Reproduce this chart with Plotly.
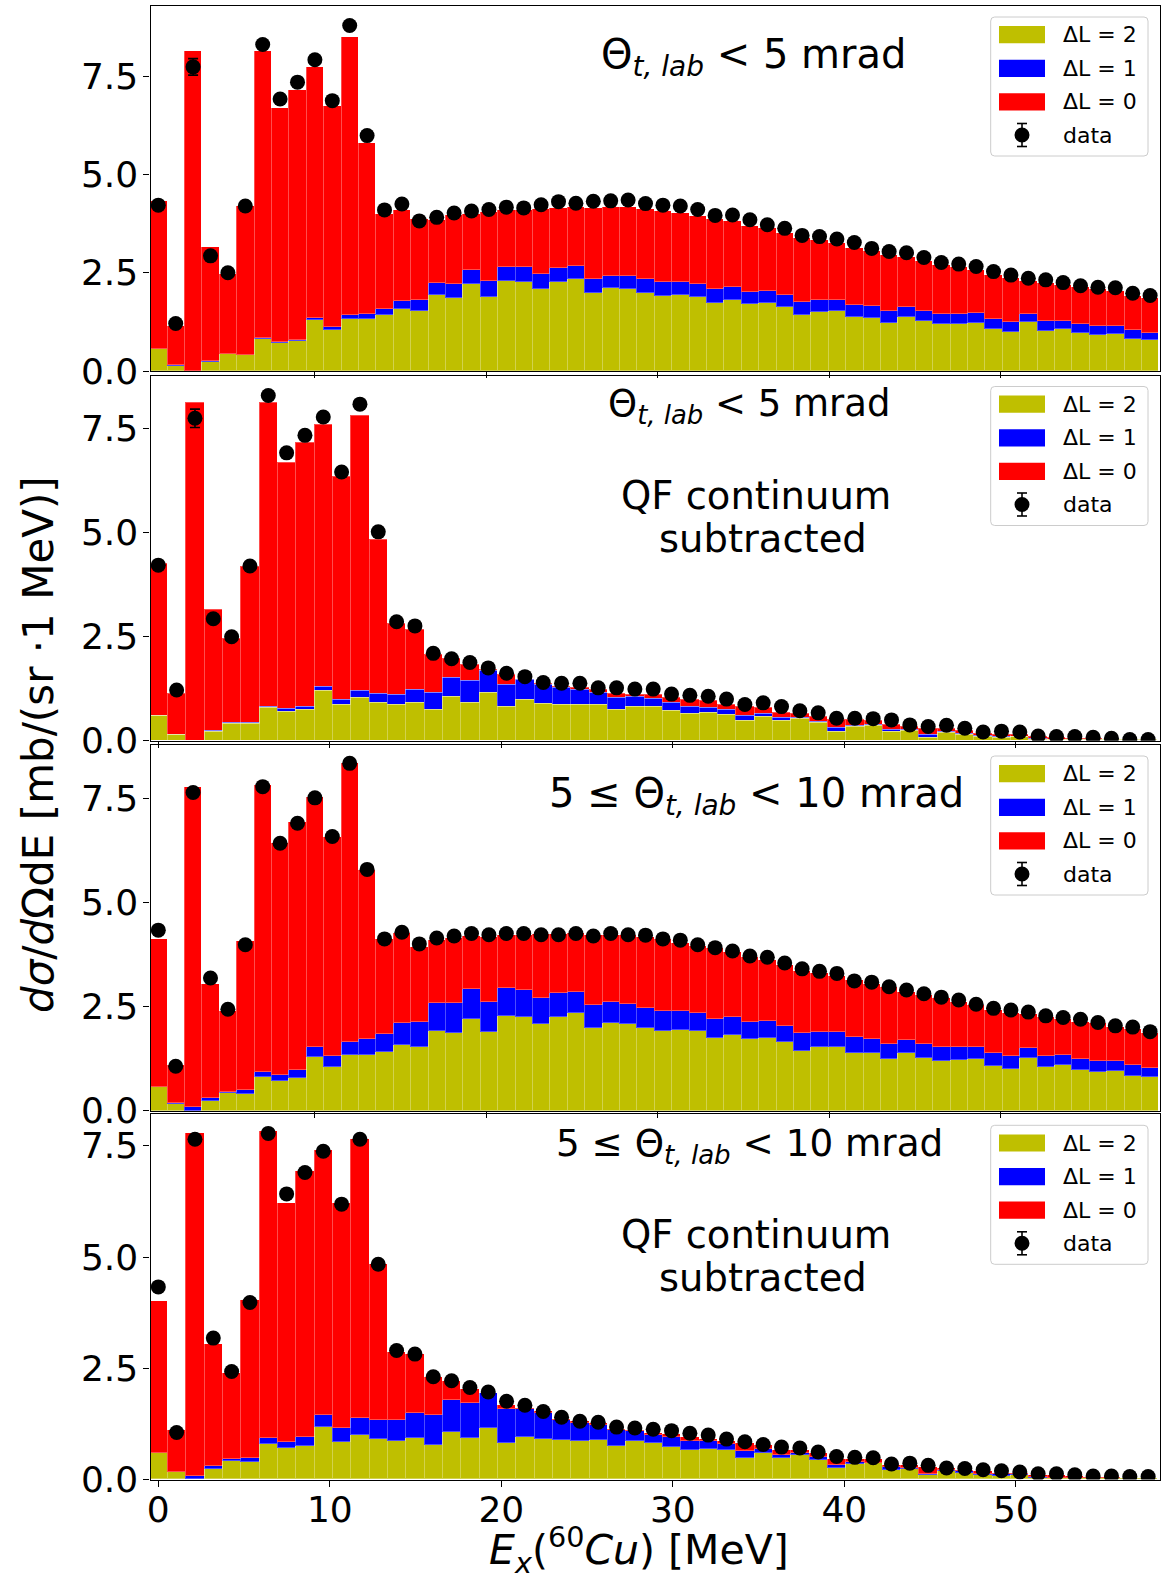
import numpy as np
import plotly.graph_objects as go

FIG_W, FIG_H = 1161, 1577

# ---------------------------------------------------------------------------
# Cross sections in mb/(sr 1 MeV).  For every panel:
#   *_data  : measured points
#   *_l2    : ΔL = 2 contribution
#   *_l21   : ΔL = 2 + ΔL = 1 (cumulative)
#   *_tot   : ΔL = 2 + ΔL = 1 + ΔL = 0 (full fit)
# ---------------------------------------------------------------------------

# Θ < 5 mrad
p1_data = [4.22, 1.21, 7.74, 2.93, 2.50, 4.20, 8.31, 6.92, 7.35, 7.92,
           6.88, 8.79, 5.99, 4.10, 4.25, 3.82, 3.91, 4.02, 4.07, 4.11,
           4.17, 4.15, 4.23, 4.31, 4.27, 4.32, 4.33, 4.35, 4.26, 4.22,
           4.20, 4.11, 3.96, 3.97, 3.85, 3.72, 3.63, 3.45, 3.42, 3.36,
           3.27, 3.12, 3.04, 3.01, 2.89, 2.76, 2.72, 2.66, 2.53, 2.44,
           2.36, 2.32, 2.25, 2.17, 2.13, 2.12, 1.98, 1.92]
p1_err = {2: 0.21}
p1_tot = [4.32, 1.15, 8.15, 3.15, 2.48, 4.20, 8.15, 6.70, 7.16, 7.73,
          6.74, 8.50, 5.79, 3.99, 4.10, 3.88, 3.85, 3.97, 4.00, 4.04,
          4.10, 4.10, 4.12, 4.14, 4.17, 4.16, 4.17, 4.17, 4.13, 4.07,
          4.03, 3.94, 3.87, 3.82, 3.69, 3.63, 3.50, 3.38, 3.33, 3.25,
          3.12, 3.05, 2.95, 2.89, 2.80, 2.70, 2.64, 2.57, 2.44, 2.36,
          2.29, 2.25, 2.19, 2.15, 2.08, 2.04, 1.91, 1.85]
p1_l21 = [0.55, 0.15, 0.00, 0.25, 0.43, 0.41, 0.84, 0.74, 0.80, 1.35,
          1.11, 1.43, 1.46, 1.57, 1.78, 1.80, 2.23, 2.21, 2.58, 2.28,
          2.65, 2.64, 2.47, 2.63, 2.68, 2.35, 2.43, 2.42, 2.33, 2.26,
          2.26, 2.22, 2.08, 2.14, 2.02, 2.04, 1.93, 1.76, 1.81, 1.81,
          1.67, 1.65, 1.52, 1.63, 1.52, 1.46, 1.46, 1.47, 1.32, 1.25,
          1.45, 1.26, 1.28, 1.20, 1.15, 1.15, 1.04, 0.97]
p1_l2 = [0.55, 0.14, 0.00, 0.24, 0.42, 0.40, 0.82, 0.72, 0.77, 1.30,
         1.04, 1.32, 1.33, 1.42, 1.58, 1.53, 1.93, 1.87, 2.21, 1.89,
         2.28, 2.26, 2.09, 2.26, 2.35, 1.99, 2.10, 2.08, 1.99, 1.92,
         1.93, 1.89, 1.74, 1.81, 1.70, 1.74, 1.64, 1.43, 1.51, 1.52,
         1.37, 1.36, 1.23, 1.37, 1.26, 1.19, 1.20, 1.23, 1.06, 0.99,
         1.25, 1.03, 1.07, 0.97, 0.92, 0.95, 0.81, 0.80]

# Θ < 5 mrad, QF continuum subtracted
p2_data = [4.22, 1.22, 7.75, 2.93, 2.50, 4.20, 8.30, 6.92, 7.34, 7.78,
           6.46, 8.09, 5.02, 2.86, 2.76, 2.10, 1.97, 1.88, 1.75, 1.62,
           1.54, 1.40, 1.38, 1.38, 1.27, 1.27, 1.24, 1.24, 1.12, 1.09,
           1.07, 1.00, 0.87, 0.91, 0.82, 0.72, 0.67, 0.54, 0.54, 0.53,
           0.50, 0.38, 0.34, 0.37, 0.30, 0.21, 0.23, 0.21, 0.11, 0.10,
           0.10, 0.08, 0.06, 0.03, 0.03]
p2_err = {2: 0.22}
p2_tot = [4.26, 1.14, 8.13, 3.15, 2.46, 4.18, 8.13, 6.69, 7.16, 7.61,
          6.34, 7.82, 4.84, 2.81, 2.67, 2.08, 1.97, 1.84, 1.70, 1.58,
          1.48, 1.37, 1.31, 1.27, 1.23, 1.14, 1.12, 1.10, 1.04, 0.98,
          0.96, 0.88, 0.82, 0.80, 0.69, 0.66, 0.59, 0.51, 0.50, 0.48,
          0.38, 0.34, 0.30, 0.30, 0.24, 0.18, 0.16, 0.16, 0.10, 0.08,
          0.06, 0.05, 0.04, 0.03, 0.02]
p2_l21 = [0.61, 0.16, 0.00, 0.24, 0.43, 0.43, 0.83, 0.77, 0.83, 1.31,
          0.99, 1.21, 1.14, 1.12, 1.24, 1.17, 1.52, 1.44, 1.69, 1.34,
          1.46, 1.35, 1.28, 1.22, 1.17, 1.03, 1.07, 1.01, 0.91, 0.82,
          0.80, 0.75, 0.61, 0.66, 0.55, 0.56, 0.47, 0.32, 0.37, 0.38,
          0.26, 0.26, 0.14, 0.22, 0.18, 0.12, 0.11, 0.11, 0.05, 0.04,
          0.04, 0.03, 0.03, 0.02, 0.02]
p2_l2 = [0.60, 0.15, 0.00, 0.23, 0.42, 0.41, 0.81, 0.71, 0.75, 1.21,
         0.86, 1.03, 0.92, 0.88, 0.92, 0.76, 1.07, 0.93, 1.15, 0.82,
         0.98, 0.90, 0.88, 0.87, 0.88, 0.74, 0.83, 0.82, 0.72, 0.65,
         0.67, 0.64, 0.48, 0.59, 0.48, 0.54, 0.43, 0.23, 0.35, 0.37,
         0.23, 0.24, 0.08, 0.19, 0.14, 0.10, 0.08, 0.10, 0.03, 0.03,
         0.03, 0.03, 0.02, 0.02, 0.02]

# 5 ≤ Θ < 10 mrad
p3_data = [4.34, 1.07, 7.65, 3.19, 2.44, 3.99, 7.79, 6.43, 6.91, 7.52,
           6.59, 8.35, 5.80, 4.13, 4.29, 4.01, 4.15, 4.20, 4.26, 4.23,
           4.26, 4.26, 4.23, 4.23, 4.26, 4.20, 4.26, 4.23, 4.22, 4.13,
           4.10, 3.99, 3.92, 3.84, 3.72, 3.69, 3.55, 3.41, 3.35, 3.30,
           3.12, 3.09, 2.98, 2.90, 2.81, 2.73, 2.66, 2.56, 2.46, 2.42,
           2.37, 2.28, 2.24, 2.20, 2.12, 2.04, 2.01, 1.90]
p3_err = {}
p3_tot = [4.12, 1.10, 7.79, 3.05, 2.40, 4.07, 7.83, 6.43, 6.95, 7.53,
          6.59, 8.35, 5.79, 4.12, 4.26, 3.94, 4.10, 4.14, 4.20, 4.18,
          4.22, 4.22, 4.25, 4.25, 4.26, 4.22, 4.22, 4.22, 4.18, 4.12,
          4.04, 3.96, 3.90, 3.82, 3.69, 3.62, 3.50, 3.37, 3.30, 3.24,
          3.14, 3.05, 2.98, 2.86, 2.78, 2.70, 2.62, 2.54, 2.42, 2.36,
          2.32, 2.26, 2.20, 2.14, 2.10, 2.02, 1.97, 1.86]
p3_l21 = [0.57, 0.18, 0.08, 0.31, 0.46, 0.50, 0.94, 0.86, 0.98, 1.52,
          1.32, 1.66, 1.72, 1.84, 2.10, 2.14, 2.58, 2.58, 2.92, 2.61,
          2.94, 2.89, 2.71, 2.82, 2.86, 2.53, 2.61, 2.56, 2.48, 2.40,
          2.40, 2.35, 2.20, 2.25, 2.13, 2.15, 2.04, 1.86, 1.90, 1.90,
          1.77, 1.73, 1.60, 1.70, 1.60, 1.52, 1.52, 1.52, 1.38, 1.31,
          1.50, 1.31, 1.34, 1.24, 1.19, 1.20, 1.09, 1.03]
p3_l2 = [0.56, 0.17, 0.00, 0.24, 0.42, 0.40, 0.80, 0.72, 0.78, 1.28,
         1.04, 1.33, 1.33, 1.41, 1.58, 1.54, 1.92, 1.87, 2.20, 1.89,
         2.28, 2.26, 2.09, 2.26, 2.34, 2.00, 2.10, 2.08, 2.00, 1.92,
         1.94, 1.91, 1.75, 1.83, 1.72, 1.75, 1.64, 1.44, 1.52, 1.52,
         1.39, 1.38, 1.24, 1.39, 1.27, 1.20, 1.21, 1.24, 1.08, 1.01,
         1.27, 1.04, 1.09, 0.99, 0.93, 0.96, 0.83, 0.82]

# 5 ≤ Θ < 10 mrad, QF continuum subtracted
p4_data = [4.33, 1.06, 7.65, 3.18, 2.43, 3.98, 7.78, 6.42, 6.90, 7.38,
           6.19, 7.65, 4.84, 2.90, 2.82, 2.31, 2.22, 2.07, 1.97, 1.76,
           1.67, 1.53, 1.40, 1.31, 1.29, 1.18, 1.16, 1.13, 1.10, 1.04,
           1.00, 0.91, 0.85, 0.79, 0.73, 0.71, 0.62, 0.52, 0.50, 0.49,
           0.35, 0.37, 0.32, 0.26, 0.25, 0.22, 0.20, 0.17, 0.13, 0.13,
           0.11, 0.08, 0.08, 0.07, 0.07]
p4_err = {}
p4_tot = [4.01, 1.10, 7.78, 3.04, 2.39, 4.04, 7.82, 6.22, 6.93, 7.41,
          6.21, 7.65, 4.84, 2.86, 2.81, 2.30, 2.20, 2.03, 1.94, 1.68,
          1.60, 1.53, 1.35, 1.30, 1.26, 1.14, 1.11, 1.05, 1.02, 0.96,
          0.91, 0.87, 0.81, 0.76, 0.66, 0.66, 0.58, 0.46, 0.46, 0.45,
          0.32, 0.33, 0.27, 0.25, 0.22, 0.18, 0.15, 0.14, 0.10, 0.09,
          0.07, 0.06, 0.05, 0.04, 0.03]
p4_l21 = [0.58, 0.17, 0.08, 0.29, 0.46, 0.49, 0.93, 0.83, 0.96, 1.45,
          1.15, 1.38, 1.33, 1.34, 1.49, 1.44, 1.79, 1.71, 1.94, 1.58,
          1.58, 1.50, 1.33, 1.27, 1.22, 1.11, 1.08, 1.00, 0.95, 0.85,
          0.85, 0.80, 0.64, 0.68, 0.55, 0.59, 0.50, 0.32, 0.38, 0.37,
          0.28, 0.26, 0.13, 0.22, 0.18, 0.12, 0.11, 0.11, 0.05, 0.04,
          0.03, 0.03, 0.02, 0.02, 0.02]
p4_l2 = [0.58, 0.16, 0.00, 0.23, 0.42, 0.40, 0.80, 0.70, 0.74, 1.18,
         0.84, 1.00, 0.91, 0.85, 0.92, 0.77, 1.07, 0.93, 1.15, 0.81,
         0.96, 0.90, 0.89, 0.87, 0.89, 0.74, 0.85, 0.81, 0.73, 0.65,
         0.68, 0.65, 0.49, 0.59, 0.47, 0.54, 0.44, 0.25, 0.35, 0.37,
         0.22, 0.24, 0.09, 0.19, 0.14, 0.10, 0.08, 0.10, 0.03, 0.03,
         0.03, 0.03, 0.02, 0.02, 0.02]

# Excitation-energy binning (MeV)
FULL_FIRST, FULL_STEP = 0.892, 1.0146   # panels with QF continuum
SUB_FIRST, SUB_STEP = 0.0, 1.0688       # QF-subtracted panels

x_ticks = [0, 10, 20, 30, 40, 50]
y_ticks = [0, 2.5, 5.0, 7.5]
y_tick_text = ["0.0", "2.5", "5.0", "7.5"]

legend_labels = ["ΔL = 2", "ΔL = 1", "ΔL = 0", "data"]

C_L2, C_L1, C_L0 = "#bfbf00", "#0000ff", "#ff0000"
FONT = "DejaVu Sans"

# ---------------------------------------------------------------------------
PLOT_L, PLOT_R = 150.5, 1160.0


def X(px):
    return px / FIG_W


def Y(py):
    return 1.0 - py / FIG_H


def x_range(axis_zero_px, px_per_mev):
    return [(PLOT_L - axis_zero_px) / px_per_mev, (PLOT_R - axis_zero_px) / px_per_mev]


PX_PER_MEV = 17.15
panels = [
    dict(top=6.0, bottom=371.0, ymax=9.288, zero_px=143.0,
         first=FULL_FIRST, step=FULL_STEP,
         data=p1_data, err=p1_err, l2=p1_l2, l21=p1_l21, tot=p1_tot,
         title="Θ<sub><i>t, lab</i></sub> &lt; 5 mrad", title_xy=(753, 57), title_size=40,
         qf=False),
    dict(top=375.5, bottom=740.7, ymax=8.779, zero_px=158.3,
         first=SUB_FIRST, step=SUB_STEP,
         data=p2_data, err=p2_err, l2=p2_l2, l21=p2_l21, tot=p2_tot,
         title="Θ<sub><i>t, lab</i></sub> &lt; 5 mrad", title_xy=(749, 406), title_size=37,
         qf=True),
    dict(top=745.0, bottom=1110.7, ymax=8.791, zero_px=143.0,
         first=FULL_FIRST, step=FULL_STEP,
         data=p3_data, err=p3_err, l2=p3_l2, l21=p3_l21, tot=p3_tot,
         title="5 ≤ Θ<sub><i>t, lab</i></sub> &lt; 10 mrad", title_xy=(756, 796), title_size=40,
         qf=False),
    dict(top=1114.3, bottom=1479.6, ymax=8.209, zero_px=158.3,
         first=SUB_FIRST, step=SUB_STEP,
         data=p4_data, err=p4_err, l2=p4_l2, l21=p4_l21, tot=p4_tot,
         title="5 ≤ Θ<sub><i>t, lab</i></sub> &lt; 10 mrad", title_xy=(749, 1145), title_size=37.3,
         qf=True),
]

fig = go.Figure()
layout = dict(
    width=FIG_W, height=FIG_H,
    margin=dict(l=0, r=0, t=0, b=0),
    paper_bgcolor="white", plot_bgcolor="white",
    barmode="stack", bargap=0,
    showlegend=False,
    font=dict(family=FONT, color="black"),
)
shapes, annotations = [], []

axis_common = dict(showline=True, linecolor="black", linewidth=1.3, mirror=True,
                   ticks="outside", ticklen=6, tickwidth=1.3, tickcolor="black",
                   showgrid=False, zeroline=False, automargin=False,
                   tickfont=dict(family=FONT, size=36, color="black"))

bar_edge = dict(width=1, color="rgba(255,255,255,0.3)")

for k, p in enumerate(panels, start=1):
    sfx = "" if k == 1 else str(k)
    xref, yref = "x" + sfx, "y" + sfx
    n = len(p["data"])
    centers = p["first"] + p["step"] * np.arange(n)
    l2 = np.array(p["l2"])
    l1 = np.array(p["l21"]) - l2
    l0 = np.array(p["tot"]) - np.array(p["l21"])
    err = np.full(n, np.nan)
    for i, e in p["err"].items():
        err[i] = e

    for vals, col, name in ((l2, C_L2, "ΔL = 2"), (l1, C_L1, "ΔL = 1"), (l0, C_L0, "ΔL = 0")):
        fig.add_trace(go.Bar(x=centers, y=vals, width=p["step"], name=name,
                             marker=dict(color=col, line=bar_edge),
                             xaxis=xref, yaxis=yref))
    fig.add_trace(go.Scatter(x=centers, y=p["data"], mode="markers", name="data",
                             marker=dict(color="black", size=15),
                             error_y=dict(type="data", array=err, visible=True,
                                          color="black", thickness=1.6, width=5),
                             xaxis=xref, yaxis=yref))

    xa = dict(axis_common)
    xa.update(domain=[X(PLOT_L), X(PLOT_R)], anchor=yref,
              range=x_range(p["zero_px"], PX_PER_MEV),
              tickvals=x_ticks, showticklabels=(k == 4),
              ticklabelstandoff=-8)
    ya = dict(axis_common)
    ya.update(domain=[Y(p["bottom"]), Y(p["top"])], anchor=xref,
              range=[0, p["ymax"]], tickvals=y_ticks, ticktext=y_tick_text,
              ticklabelstandoff=-2)
    layout["xaxis" + sfx] = xa
    layout["yaxis" + sfx] = ya

    # panel caption
    tx, ty = p["title_xy"]
    annotations.append(dict(text=p["title"], x=X(tx), y=Y(ty), xref="paper", yref="paper",
                            xanchor="center", yanchor="middle", showarrow=False,
                            font=dict(size=p["title_size"], family=FONT, color="black")))
    if p["qf"]:
        for txt, cx, cy in (("QF continuum", 756, p["top"] + 120),
                            ("subtracted", 763, p["top"] + 163)):
            annotations.append(dict(text=txt, x=X(cx), y=Y(cy), xref="paper", yref="paper",
                                    xanchor="center", yanchor="middle", showarrow=False,
                                    font=dict(size=38.5, family=FONT, color="black")))

    # legend box
    bx0, bx1 = 990.7, 1148.0
    by0 = p["top"] + 11.0
    by1 = by0 + 139.0
    r = 4.0
    path = (f"M {X(bx0 + r)},{Y(by0)} L {X(bx1 - r)},{Y(by0)} "
            f"Q {X(bx1)},{Y(by0)} {X(bx1)},{Y(by0 + r)} L {X(bx1)},{Y(by1 - r)} "
            f"Q {X(bx1)},{Y(by1)} {X(bx1 - r)},{Y(by1)} L {X(bx0 + r)},{Y(by1)} "
            f"Q {X(bx0)},{Y(by1)} {X(bx0)},{Y(by1 - r)} L {X(bx0)},{Y(by0 + r)} "
            f"Q {X(bx0)},{Y(by0)} {X(bx0 + r)},{Y(by0)} Z")
    shapes.append(dict(type="path", path=path, xref="paper", yref="paper", layer="above",
                       fillcolor="rgba(255,255,255,0.8)", line=dict(color="#cccccc", width=1)))
    rows = [by0 + 17.7, by0 + 51.4, by0 + 84.9, by0 + 118.0]
    for row, col in zip(rows[:3], (C_L2, C_L1, C_L0)):
        shapes.append(dict(type="rect", xref="paper", yref="paper", layer="above",
                           x0=X(bx0 + 8.3), x1=X(bx0 + 54.3),
                           y0=Y(row + 8.6), y1=Y(row - 8.6),
                           fillcolor=col, line=dict(width=0)))
    mx = bx0 + 31.3
    my = rows[3]
    shapes.append(dict(type="line", xref="paper", yref="paper", layer="above",
                       x0=X(mx), x1=X(mx), y0=Y(my - 11.5), y1=Y(my + 11.5),
                       line=dict(color="black", width=1.6)))
    for cy in (my - 11.5, my + 11.5):
        shapes.append(dict(type="line", xref="paper", yref="paper", layer="above",
                           x0=X(mx - 5), x1=X(mx + 5), y0=Y(cy), y1=Y(cy),
                           line=dict(color="black", width=1.6)))
    shapes.append(dict(type="circle", xref="paper", yref="paper", layer="above",
                       x0=X(mx - 7.5), x1=X(mx + 7.5), y0=Y(my + 7.5), y1=Y(my - 7.5),
                       fillcolor="black", line=dict(width=0)))
    for row, lab in zip(rows, legend_labels):
        annotations.append(dict(text=lab, x=X(bx0 + 70.0), y=Y(row), xref="paper", yref="paper",
                                xanchor="left", yanchor="middle", showarrow=False,
                                font=dict(size=22, family=FONT, color="black")))

# axis titles
annotations.append(dict(text="<i>E<sub>x</sub></i>(<sup>60</sup><i>Cu</i>) [MeV]",
                        x=X(639), y=Y(1550), xref="paper", yref="paper",
                        xanchor="center", yanchor="middle", showarrow=False,
                        font=dict(size=41, family=FONT, color="black")))
annotations.append(dict(text="<i>dσ</i>/<i>d</i>ΩdE [mb/(sr ·1 MeV)]",
                        x=X(38), y=Y(745), xref="paper", yref="paper", textangle=-90,
                        xanchor="center", yanchor="middle", showarrow=False,
                        font=dict(size=42, family=FONT, color="black")))

layout["shapes"] = shapes
layout["annotations"] = annotations
fig.update_layout(**layout)
fig.write_html("out.html")
